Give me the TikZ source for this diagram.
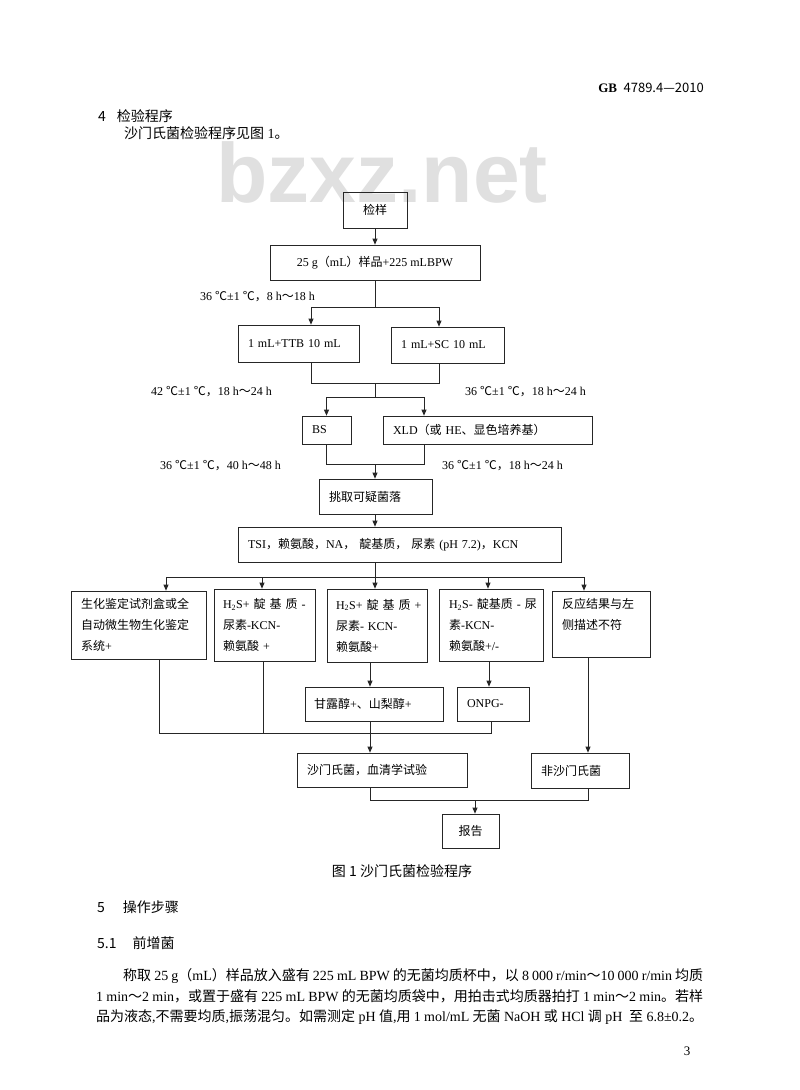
\documentclass[tikz,border=0pt]{standalone}
\usepackage{fontspec}
\setmainfont{Liberation Serif}
\newfontfamily\cjk{Noto Sans CJK SC}
\newfontfamily\wmfont{Liberation Sans}
\usetikzlibrary{arrows.meta}
\XeTeXlinebreaklocale "zh"
\XeTeXlinebreakskip=0pt plus 1pt minus 0.3pt
\newcommand\zh[1]{{\cjk #1}}

\tikzset{
  box/.style={draw=black!85, line width=0.75pt, inner ysep=0pt,
    font=\fontsize{12}{21}\selectfont},
  lbox/.style={box, align=left, inner xsep=10pt},
  lbl/.style={anchor=west, inner sep=0pt, font=\fontsize{12}{14}\selectfont},
  pagetxt/.style={anchor=west, inner sep=0pt, font=\fontsize{14}{16}\selectfont},
  conn/.style={draw=black!85, line width=0.75pt},
}

\begin{document}
\begin{tikzpicture}[x=1pt,y=-1pt,>={Triangle[length=6pt,width=5pt]}]
  \fill[white] (0,0) rectangle (800,1090);
  \useasboundingbox (0,0) rectangle (800,1090);

  % page text
  \node[anchor=base,inner sep=0pt,text=black!12,font=\wmfont\bfseries\fontsize{84}{88}\selectfont] (wm) at (382,202) {bzxz.net};
  \node[anchor=east,inner sep=0pt,font=\fontsize{13}{15}\selectfont] (hdr) at (704,88) {\textbf{GB}\ \ {\cjk 4789.4—2010}};
  \node[pagetxt,font=\cjk\fontsize{14}{16}\selectfont] (h4) at (98,116) {4\hspace{11pt}检验程序};
  \node[pagetxt] (intro) at (124,133) {\zh{沙门氏菌检验程序见图} 1\zh{。}};

  \begin{scope}
    \node[box,minimum width=64pt,minimum height=36pt] (s) at (375,210) {\zh{检样}};
    \node[box,minimum width=210pt,minimum height=35pt] (mix) at (375,262.5) {25 g\zh{（}mL\zh{）样品}+225 mLBPW};

    \node[lbox,minimum height=37pt,text width=101pt] (ttb) at (298.5,343.5) {1 mL+TTB 10 mL};
    \node[lbox,minimum height=36pt,text width=93pt] (sc) at (447.5,345) {1 mL+SC 10 mL};

    \node[lbox,minimum height=28pt,text width=29pt] (bs) at (326.5,430) {BS};
    \node[lbox,minimum height=28pt,text width=189pt] (xld) at (487.5,430) {XLD\zh{（或} HE\zh{、显色培养基）}};

    \node[lbox,minimum height=35pt,text width=93pt] (pick) at (375.5,496.5) {\zh{挑取可疑菌落}};
    \node[lbox,minimum height=35pt,text width=303pt] (tsi) at (399.5,544.5) {TSI\zh{，赖氨酸，}NA\zh{，\ 靛基质，\ 尿素} (pH 7.2)\zh{，}KCN};

    \node[lbox,minimum height=68pt,text width=115pt] (b1) at (138.5,625) {\makebox[\linewidth][s]{\zh{生化鉴定试剂盒或全}}\\\makebox[\linewidth][s]{\zh{自动微生物生化鉴定}}\\\zh{系统}+};
    \node[lbox,minimum height=72pt,text width=83pt,inner xsep=9pt] (b2) at (264.5,625) {\makebox[\linewidth][s]{H\textsubscript{2}S+ \zh{靛 基 质} -}\\\zh{尿素}-KCN-\\\zh{赖氨酸} +};
    \node[lbox,minimum height=73pt,text width=82pt,inner xsep=9pt] (b3) at (377,625.5) {\makebox[\linewidth][s]{H\textsubscript{2}S+ \zh{靛 基 质} +}\\\zh{尿素}- KCN-\\\zh{赖氨酸}+};
    \node[lbox,minimum height=72pt,text width=84pt] (b4) at (491,625) {\makebox[\linewidth][s]{H\textsubscript{2}S- \zh{靛基质} - \zh{尿}}\\\zh{素}-KCN-\\\zh{赖氨酸}+/-};
    \node[lbox,minimum height=66pt,text width=78pt] (b5) at (601,624) {\makebox[\linewidth][s]{\zh{反应结果与左}}\\\zh{侧描述不符}\\\mbox{}};

    \node[lbox,minimum height=34pt,text width=120pt,inner xsep=9pt] (gan) at (374,704) {\zh{甘露醇}+\zh{、山梨醇}+};
    \node[lbox,minimum height=34pt,text width=52pt] (onpg) at (493,704) {ONPG-};

    \node[lbox,minimum height=34pt,text width=150pt] (sal) at (382,770) {\zh{沙门氏菌，血清学试验}};
    \node[lbox,minimum height=35pt,text width=78pt] (non) at (580,770.5) {\zh{非沙门氏菌}};

    \node[box,minimum width=57pt,minimum height=34pt] (rep) at (470.5,831) {\zh{报告}};

    \node[lbl] (t1) at (200,297) {36 \zh{℃}±1 \zh{℃，}8 h\zh{～}18 h};
    \node[lbl] (t2) at (151,392) {42 \zh{℃}±1 \zh{℃，}18 h\zh{～}24 h};
    \node[lbl] (t3) at (465,392) {36 \zh{℃}±1 \zh{℃，}18 h\zh{～}24 h};
    \node[lbl] (t4) at (160,466) {36 \zh{℃}±1 \zh{℃，}40 h\zh{～}48 h};
    \node[lbl] (t5) at (442,466) {36 \zh{℃}±1 \zh{℃，}18 h\zh{～}24 h};

    \coordinate (j1) at (375,307);
    \coordinate (j2) at (375,383);
    \coordinate (j3) at (375,397);
    \coordinate (j4) at (375,464);
    \coordinate (j5) at (375,577);
    \coordinate (j6) at (370,733);
    \coordinate (j7) at (475,800);

    \path[conn,->] (s) -- (mix);
    \path[conn] (mix.south) -- (j1);
    \path[conn,->] (j1) -| ([xshift=12.5pt]ttb.north);
    \path[conn,->] (j1) -| ([xshift=-8.5pt]sc.north);

    \path[conn] ([xshift=12.5pt]ttb.south) |- (j2);
    \path[conn] ([xshift=-8.5pt]sc.south) |- (j2);
    \path[conn] (j2) -- (j3);
    \path[conn,->] (j3) -| (bs.north);
    \path[conn,->] (j3) -| ([xshift=-63.5pt]xld.north);

    \path[conn] (bs.south) |- (j4);
    \path[conn] ([xshift=-63.5pt]xld.south) |- (j4);
    \path[conn,->] (j4) -- ([xshift=-0.5pt]pick.north);
    \path[conn,->] ([xshift=-0.5pt]pick.south) -- ([xshift=-24.5pt]tsi.north);

    \path[conn] ([xshift=-24.5pt]tsi.south) -- (j5);
    \path[conn,->] (j5) -| ([xshift=27.5pt]b1.north);
    \path[conn,->] (j5) -| ([xshift=-2.5pt]b2.north);
    \path[conn,->] (j5) -- ([xshift=-2pt]b3.north);
    \path[conn,->] (j5) -| ([xshift=-3pt]b4.north);
    \path[conn,->] (j5) -| ([xshift=-17pt]b5.north);

    \path[conn,->] ([xshift=-7pt]b3.south) -- ([xshift=-4pt]gan.north);
    \path[conn,->] ([xshift=-2pt]b4.south) -- ([xshift=-4pt]onpg.north);
    \path[conn,->] ([xshift=-13pt]b5.south) -- ([xshift=8pt]non.north);

    \path[conn] ([xshift=20.5pt]b1.south) |- (j6);
    \path[conn] ([xshift=-1.5pt]b2.south) |- (j6);
    \path[conn] ([xshift=-2pt]onpg.south) |- (j6);
    \path[conn] ([xshift=-4pt]gan.south) -- (j6);
    \path[conn,->] (j6) -- ([xshift=-12pt]sal.north);

    \path[conn] ([xshift=-12pt]sal.south) |- (j7);
    \path[conn] ([xshift=8pt]non.south) |- (j7);
    \path[conn,->] (j7) -- ([xshift=4.5pt]rep.north);
  \end{scope}

  \node[font=\cjk\fontsize{14}{16}\selectfont,inner sep=0pt] (cap) at (402,871) {图 1 沙门氏菌检验程序};
  \node[pagetxt,font=\cjk\fontsize{14}{16}\selectfont] (h5) at (97,907) {5\hspace{18pt}操作步骤};
  \node[pagetxt,font=\cjk\fontsize{14}{16}\selectfont] (h51) at (97,943) {5.1\hspace{16pt}前增菌};

  \node[pagetxt] (p1) at (123,976) {\makebox[580pt][s]{\zh{称取} 25 g\zh{（}mL\zh{）样品放入盛有} 225 mL BPW \zh{的无菌均质杯中，以} 8 000 r/min\zh{～}10 000 r/min \zh{均质}}};
  \node[pagetxt] (p2) at (96,996) {\makebox[607pt][s]{1 min\zh{～}2 min\zh{，或置于盛有} 225 mL BPW \zh{的无菌均质袋中，用拍击式均质器拍打} 1 min\zh{～}2 min\zh{。若样}}};
  \node[pagetxt] (p3) at (96,1017) {\makebox[607pt][s]{\zh{品为液态},\zh{不需要均质},\zh{振荡混匀。如需测定} pH \zh{值},\zh{用} 1 mol/mL \zh{无菌} NaOH \zh{或} HCl \zh{调} pH\ \ \zh{至} 6.8±0.2\zh{。}}};
  \node[inner sep=0pt,font=\fontsize{13}{15}\selectfont] (pg) at (687,1051) {3};
\end{tikzpicture}
\end{document}
